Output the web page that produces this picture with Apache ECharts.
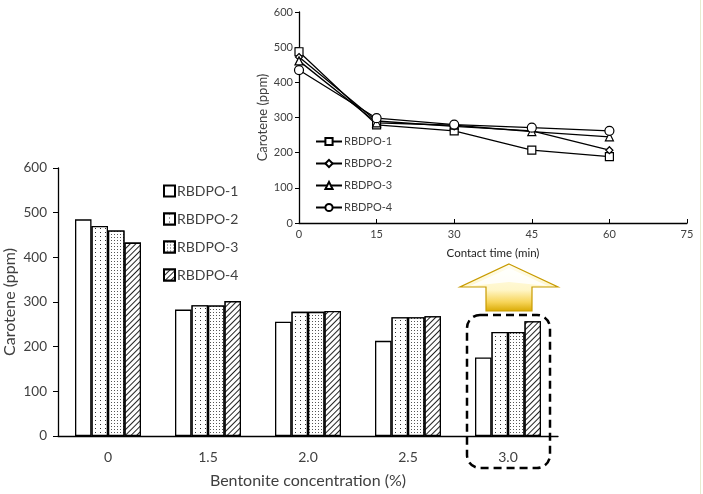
<!DOCTYPE html>
<html><head><meta charset="utf-8">
<script src="https://cdn.jsdelivr.net/npm/echarts@6/dist/echarts.min.js"></script>
<style>html,body{margin:0;padding:0;background:#fff}#c{width:703px;height:494px}</style>
</head><body><div id="c"></div>
<script>
const categories = ['0', '1.5', '2.0', '2.5', '3.0'];
const seriesNames = ['RBDPO-1', 'RBDPO-2', 'RBDPO-3', 'RBDPO-4'];
const bar1 = [485, 283, 256, 213, 176];
const bar2 = [470, 293, 278, 266, 233];
const bar3 = [460, 292, 278, 266, 233];
const bar4 = [433, 302, 280, 268, 257];
const times = [0, 15, 30, 45, 60];
const line1 = [487, 279, 262, 207, 189];
const line2 = [472, 290, 275, 262, 207];
const line3 = [461, 285, 278, 260, 245];
const line4 = [435, 298, 280, 271, 262];
const yTicks = [0, 100, 200, 300, 400, 500, 600];
const xTimeTicks = [0, 15, 30, 45, 60, 75];

const FONT = 'Lato';
const TXT = '#404040';
const chart = echarts.init(document.getElementById('c'), null, {renderer: 'canvas'});

const decals = [
  null,
  {symbol: 'rect', symbolSize: 1, dashArrayX: [[1, 4]], dashArrayY: [1, 3], color: '#333', backgroundColor: '#fff'},
  {symbol: 'rect', symbolSize: 1, dashArrayX: [[1, 1.5]], dashArrayY: [1, 1.5], color: '#555', backgroundColor: '#fff'},
  {symbol: 'rect', symbolSize: 1, dashArrayX: [[1, 0]], dashArrayY: [1, 2.5], rotation: -Math.PI / 4, color: '#222', backgroundColor: '#fff'}
];
const barData = [bar1, bar2, bar3, bar4];
const lineData = [line1, line2, line3, line4];
const symbols = ['rect', 'diamond', 'triangle', 'circle'];
const symSizes = [8, 7, 8, 9];

const series = [];
barData.forEach((d, i) => {
  const s = {
    name: seriesNames[i], type: 'bar', xAxisIndex: 0, yAxisIndex: 0,
    data: d, barGap: '0%', barCategoryGap: '34%',
    itemStyle: {color: '#fff', borderColor: '#000', borderWidth: 1.3},
    emphasis: {disabled: true}, animation: false
  };
  if (decals[i]) s.itemStyle.decal = decals[i];
  series.push(s);
});
lineData.forEach((d, i) => {
  series.push({
    name: seriesNames[i] + ' ', type: 'line', xAxisIndex: 1, yAxisIndex: 1,
    data: times.map((t, j) => [t, d[j]]),
    symbol: symbols[i], symbolSize: symSizes[i],
    lineStyle: {color: '#000', width: 1.3},
    itemStyle: {color: '#fff', borderColor: '#000', borderWidth: 1.2},
    emphasis: {disabled: true}, animation: false, z: 5
  });
});

const axisLabelStyle = (sz) => ({color: TXT, fontFamily: FONT, fontSize: sz});

chart.setOption({
  animation: false,
  textStyle: {fontFamily: FONT},
  grid: [
    {left: 58, right: 145, top: 168, bottom: 58, containLabel: false, outerBoundsMode: 'none'},
    {left: 299, right: 16, top: 12, bottom: 271, containLabel: false, outerBoundsMode: 'none'}
  ],
  xAxis: [
    {type: 'category', gridIndex: 0, data: categories,
     axisLine: {lineStyle: {color: '#000', width: 1.3}}, axisTick: {show: false},
     axisLabel: Object.assign(axisLabelStyle(14), {margin: 14}),
     name: 'Bentonite concentration (%)', nameLocation: 'middle', nameGap: 37, nameMoveOverlap: false,
     nameTextStyle: {color: TXT, fontFamily: FONT, fontSize: 16}},
    {type: 'value', gridIndex: 1, min: 0, max: 75, interval: 15,
     axisLine: {lineStyle: {color: '#000', width: 1.3}},
     axisTick: {show: true, inside: true, length: 4, lineStyle: {color: '#000'}},
     splitLine: {show: false},
     axisLabel: Object.assign(axisLabelStyle(11), {margin: 6, formatter: v => xTimeTicks.includes(v) ? String(v) : ''}),
     name: 'Contact time (min)', nameLocation: 'middle', nameGap: 24, nameMoveOverlap: false,
     nameTextStyle: {color: '#222', fontFamily: FONT, fontSize: 11.5}}
  ],
  yAxis: [
    {type: 'value', gridIndex: 0, min: 0, max: 600, interval: 100,
     axisLine: {show: true, lineStyle: {color: '#000', width: 1.3}},
     axisTick: {show: true, length: 5, lineStyle: {color: '#000'}},
     splitLine: {show: false},
     axisLabel: Object.assign(axisLabelStyle(13.5), {margin: 11, formatter: v => yTicks.includes(v) ? String(v) : ''}),
     name: 'Carotene (ppm)', nameLocation: 'middle', nameGap: 40, nameMoveOverlap: false,
     nameTextStyle: {color: TXT, fontFamily: FONT, fontSize: 16}},
    {type: 'value', gridIndex: 1, min: 0, max: 600, interval: 100,
     axisLine: {show: true, lineStyle: {color: '#000', width: 1.3}},
     axisTick: {show: true, length: 4, lineStyle: {color: '#000'}},
     splitLine: {show: false},
     axisLabel: Object.assign(axisLabelStyle(11), {margin: 6}),
     name: 'Carotene (ppm)', nameLocation: 'middle', nameGap: 30, nameMoveOverlap: false,
     nameTextStyle: {color: TXT, fontFamily: FONT, fontSize: 13}}
  ],
  legend: [
    {data: seriesNames, orient: 'vertical', left: 158, top: 179,
     itemWidth: 11, itemHeight: 11, itemGap: 14, icon: 'rect',
     textStyle: {color: TXT, fontFamily: FONT, fontSize: 14, padding: [0, 0, 0, -3]},
     selectedMode: false},
    {data: seriesNames.map(n => n + ' '), orient: 'vertical', left: 310, top: 131,
     itemWidth: 26, itemHeight: 9, itemGap: 11,
     formatter: n => n.trim(),
     textStyle: {color: TXT, fontFamily: FONT, fontSize: 11, padding: [0, 0, 0, -3]},
     selectedMode: false}
  ],
  graphic: [
    {type: 'line', shape: {x1: 700.5, y1: 0, x2: 700.5, y2: 494}, style: {stroke: '#e6eccf', lineWidth: 1}, silent: true},
    {type: 'rect', shape: {x: 467, y: 315, width: 83, height: 153, r: 13},
     style: {fill: 'none', stroke: '#000', lineWidth: 2.5, lineDash: [8, 5]}, silent: true, z: 10},
    {type: 'polygon', shape: {points: [[509, 264], [558, 287], [532, 287], [532, 311], [486, 311], [486, 287], [460, 287]]},
     style: {
       fill: {type: 'linear', x: 0, y: 0, x2: 0, y2: 1, colorStops: [
         {offset: 0, color: '#fffdf0'}, {offset: 0.55, color: '#fff6c8'}, {offset: 0.8, color: '#f7d55a'}, {offset: 1, color: '#d8a800'}]},
       stroke: '#c89b00', lineWidth: 1.2}, silent: true, z: 10},
    {type: 'polygon', shape: {points: [[509, 268], [548, 286], [509, 282], [470, 286]]},
     style: {fill: 'rgba(255,255,255,0.85)'}, silent: true, z: 11}
  ],
  series: series
});
</script></body></html>
